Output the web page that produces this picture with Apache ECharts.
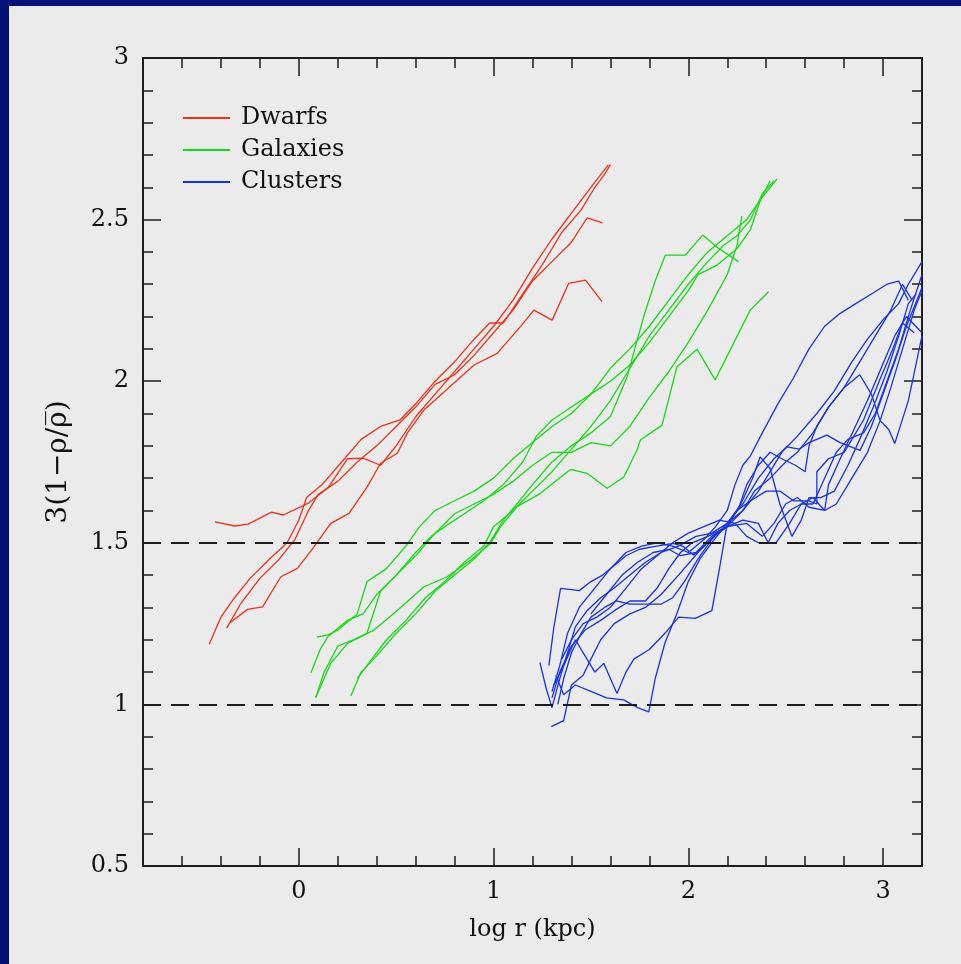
<!DOCTYPE html>
<html>
<head>
<meta charset="utf-8">
<script src="https://cdn.jsdelivr.net/npm/echarts@6/dist/echarts.min.js"></script>
<style>
  html, body { margin: 0; padding: 0; background: #ebebeb; }
  #chart { width: 961px; height: 964px; }
</style>
</head>
<body>
<div id="chart"></div>
<script>
// axis ticks
var xMajor = [0, 1, 2, 3];
var levels = [1, 1.5];

// Dwarfs (red), one array per profile: [log r, 3(1-rho/rhobar)]
var dwarfs = [
  [[-0.43,1.565],[-0.33,1.552],[-0.26,1.558],[-0.14,1.595],[-0.08,1.586],[0.05,1.623],[0.15,1.67],[0.25,1.76],[0.33,1.762],[0.42,1.74],[0.5,1.80],[0.6,1.89],[0.7,1.96],[0.8,2.03],[0.9,2.10],[1.0,2.17],[1.1,2.25],[1.2,2.35],[1.3,2.44],[1.4,2.52],[1.5,2.60],[1.59,2.67]],
  [[-0.46,1.186],[-0.40,1.27],[-0.33,1.33],[-0.25,1.39],[-0.15,1.45],[-0.06,1.50],[0.0,1.57],[0.04,1.64],[0.12,1.68],[0.22,1.75],[0.32,1.82],[0.42,1.86],[0.52,1.88],[0.6,1.93],[0.7,2.0],[0.8,2.06],[0.9,2.13],[0.98,2.18],[1.05,2.18],[1.15,2.27],[1.25,2.36],[1.35,2.46],[1.45,2.53],[1.52,2.60],[1.57,2.64],[1.60,2.67]],
  [[-0.37,1.236],[-0.3,1.31],[-0.2,1.39],[-0.1,1.45],[-0.02,1.51],[0.05,1.60],[0.1,1.65],[0.2,1.69],[0.3,1.75],[0.4,1.80],[0.5,1.86],[0.6,1.92],[0.7,1.99],[0.8,2.02],[0.9,2.08],[1.0,2.15],[1.1,2.22],[1.2,2.31],[1.3,2.37],[1.4,2.43],[1.48,2.505],[1.56,2.49]],
  [[-0.357,1.251],[-0.263,1.294],[-0.186,1.302],[-0.092,1.395],[-0.007,1.421],[0.079,1.488],[0.164,1.56],[0.258,1.591],[0.352,1.674],[0.42,1.746],[0.506,1.777],[0.557,1.839],[0.643,1.911],[0.814,2.004],[0.9,2.05],[1.019,2.086],[1.138,2.169],[1.207,2.22],[1.301,2.189],[1.386,2.303],[1.472,2.313],[1.557,2.246]]
];

// Galaxies (green)
var galaxies = [
  [[0.062,1.098],[0.11,1.17],[0.15,1.21],[0.25,1.26],[0.33,1.28],[0.4,1.34],[0.5,1.40],[0.6,1.47],[0.68,1.52],[0.75,1.55],[0.85,1.59],[0.95,1.63],[1.05,1.68],[1.15,1.75],[1.22,1.83],[1.3,1.88],[1.4,1.92],[1.5,1.96],[1.6,2.04],[1.7,2.10],[1.8,2.17],[1.9,2.25],[2.0,2.33],[2.1,2.40],[2.2,2.45],[2.3,2.50],[2.38,2.57],[2.455,2.625]],
  [[0.092,1.208],[0.15,1.215],[0.2,1.23],[0.3,1.28],[0.35,1.38],[0.45,1.42],[0.55,1.49],[0.62,1.55],[0.7,1.60],[0.8,1.63],[0.9,1.66],[1.0,1.70],[1.1,1.76],[1.2,1.81],[1.3,1.86],[1.4,1.90],[1.5,1.96],[1.6,2.0],[1.7,2.05],[1.8,2.12],[1.9,2.20],[2.0,2.28],[2.05,2.33],[2.15,2.36],[2.25,2.41],[2.32,2.47],[2.37,2.56],[2.42,2.62]],
  [[0.087,1.021],[0.164,1.127],[0.25,1.189],[0.386,1.23],[0.489,1.282],[0.643,1.364],[0.762,1.395],[0.882,1.447],[0.985,1.498],[1.036,1.55],[1.121,1.612],[1.241,1.653],[1.326,1.694],[1.395,1.727],[1.48,1.715],[1.583,1.669],[1.668,1.703],[1.737,1.787],[1.754,1.818],[1.865,1.864],[1.942,2.045],[2.045,2.099],[2.138,2.004],[2.318,2.22],[2.412,2.277]],
  [[0.267,1.026],[0.32,1.10],[0.4,1.15],[0.5,1.22],[0.6,1.28],[0.7,1.35],[0.8,1.40],[0.9,1.45],[0.98,1.50],[1.05,1.57],[1.12,1.62],[1.2,1.68],[1.3,1.75],[1.4,1.80],[1.5,1.84],[1.6,1.89],[1.686,2.014],[1.771,2.2],[1.83,2.31],[1.882,2.39],[1.985,2.39],[2.074,2.452],[2.155,2.411],[2.258,2.37]],
  [[0.087,1.021],[0.13,1.10],[0.2,1.18],[0.28,1.20],[0.35,1.22],[0.42,1.35],[0.5,1.40],[0.6,1.46],[0.7,1.53],[0.8,1.59],[0.9,1.62],[1.0,1.65],[1.1,1.69],[1.2,1.74],[1.3,1.78],[1.4,1.78],[1.5,1.81],[1.6,1.80],[1.7,1.86],[1.8,1.95],[1.9,2.03],[2.0,2.12],[2.1,2.22],[2.2,2.33],[2.25,2.42],[2.275,2.511]],
  [[0.301,1.081],[0.35,1.12],[0.45,1.20],[0.55,1.26],[0.65,1.33],[0.75,1.38],[0.85,1.44],[0.95,1.49],[1.0,1.55],[1.1,1.60],[1.2,1.66],[1.3,1.72],[1.4,1.79],[1.5,1.86],[1.6,1.94],[1.7,2.04],[1.8,2.14],[1.9,2.22],[2.0,2.30],[2.1,2.37],[2.18,2.42],[2.25,2.45],[2.32,2.50],[2.38,2.58],[2.44,2.62]]
];

// Clusters (blue)
var clusters = [
  [[1.238,1.13],[1.27,1.05],[1.30,0.99],[1.34,1.08],[1.38,1.16],[1.42,1.24],[1.48,1.29],[1.55,1.33],[1.62,1.36],[1.70,1.40],[1.78,1.44],[1.86,1.47],[1.95,1.49],[2.04,1.52],[2.12,1.53],[2.2,1.56],[2.28,1.60],[2.36,1.66],[2.42,1.72],[2.48,1.78],[2.56,1.83],[2.66,1.90],[2.75,1.97],[2.84,2.06],[2.92,2.13],[3.0,2.19],[3.08,2.24],[3.13,2.30],[3.2,2.37]],
  [[1.284,1.12],[1.31,1.24],[1.344,1.359],[1.40,1.355],[1.44,1.352],[1.50,1.38],[1.56,1.40],[1.62,1.43],[1.68,1.46],[1.75,1.48],[1.822,1.488],[1.923,1.498],[1.97,1.49],[2.027,1.462],[2.08,1.49],[2.15,1.53],[2.2,1.55],[2.28,1.57],[2.36,1.56],[2.41,1.50],[2.45,1.50],[2.52,1.56],[2.58,1.62],[2.64,1.64],[2.7,1.60],[2.76,1.62],[2.84,1.70],[2.92,1.78],[2.985,1.878],[3.03,1.85],[3.06,1.807],[3.13,1.94],[3.2,2.14]],
  [[1.297,0.931],[1.36,0.95],[1.40,1.06],[1.46,1.09],[1.50,1.14],[1.55,1.20],[1.62,1.25],[1.70,1.28],[1.78,1.30],[1.86,1.34],[1.95,1.40],[2.05,1.47],[2.13,1.52],[2.2,1.55],[2.27,1.62],[2.33,1.70],[2.369,1.766],[2.42,1.73],[2.47,1.62],[2.532,1.52],[2.58,1.57],[2.62,1.64],[2.68,1.64],[2.75,1.66],[2.82,1.74],[2.88,1.82],[2.95,1.92],[3.02,2.03],[3.08,2.14],[3.13,2.24],[3.17,2.27]],
  [[1.32,1.09],[1.36,1.03],[1.42,1.06],[1.50,1.04],[1.58,1.02],[1.668,1.014],[1.74,0.99],[1.797,0.977],[1.83,1.08],[1.88,1.19],[1.942,1.282],[2.0,1.38],[2.06,1.45],[2.12,1.50],[2.2,1.56],[2.28,1.62],[2.36,1.70],[2.44,1.76],[2.506,1.797],[2.57,1.79],[2.62,1.81],[2.711,1.833],[2.78,1.81],[2.882,1.786],[2.94,1.86],[3.0,1.96],[3.06,2.06],[3.12,2.17],[3.2,2.29]],
  [[1.31,1.06],[1.36,1.12],[1.42,1.20],[1.48,1.14],[1.52,1.10],[1.566,1.127],[1.60,1.08],[1.634,1.034],[1.68,1.10],[1.72,1.14],[1.80,1.17],[1.88,1.22],[1.95,1.27],[2.036,1.266],[2.121,1.29],[2.16,1.42],[2.2,1.56],[2.25,1.60],[2.32,1.63],[2.4,1.66],[2.47,1.66],[2.54,1.63],[2.62,1.63],[2.66,1.62],[2.66,1.72],[2.72,1.76],[2.8,1.78],[2.9,1.88],[2.98,2.0],[3.05,2.10],[3.1,2.18],[3.16,2.15]],
  [[1.33,1.00],[1.36,1.08],[1.40,1.16],[1.45,1.22],[1.50,1.27],[1.57,1.30],[1.63,1.32],[1.70,1.31],[1.78,1.31],[1.86,1.31],[1.92,1.33],[1.98,1.38],[2.05,1.45],[2.12,1.51],[2.2,1.56],[2.26,1.61],[2.3,1.68],[2.36,1.74],[2.42,1.78],[2.48,1.76],[2.55,1.74],[2.6,1.72],[2.62,1.80],[2.66,1.86],[2.72,1.92],[2.8,1.98],[2.88,2.06],[2.96,2.14],[3.04,2.22],[3.1,2.30],[3.15,2.25]],
  [[1.30,1.02],[1.34,1.10],[1.40,1.18],[1.47,1.23],[1.55,1.26],[1.62,1.29],[1.70,1.32],[1.78,1.32],[1.84,1.36],[1.90,1.42],[1.96,1.47],[2.02,1.50],[2.1,1.52],[2.2,1.55],[2.3,1.56],[2.38,1.52],[2.44,1.56],[2.5,1.62],[2.56,1.64],[2.62,1.61],[2.7,1.60],[2.72,1.68],[2.78,1.76],[2.85,1.85],[2.92,1.94],[2.99,2.04],[3.06,2.14],[3.12,2.2],[3.2,2.15]],
  [[1.30,1.04],[1.34,1.12],[1.38,1.22],[1.44,1.30],[1.52,1.36],[1.60,1.42],[1.68,1.47],[1.76,1.49],[1.84,1.50],[1.92,1.49],[2.0,1.47],[2.08,1.51],[2.14,1.55],[2.2,1.60],[2.24,1.68],[2.28,1.74],[2.32,1.77],[2.38,1.84],[2.46,1.93],[2.54,2.01],[2.62,2.10],[2.7,2.17],[2.78,2.21],[2.86,2.24],[2.94,2.27],[3.02,2.30],[3.08,2.31],[3.13,2.25]],
  [[1.35,1.14],[1.40,1.20],[1.46,1.25],[1.53,1.27],[1.60,1.30],[1.68,1.36],[1.76,1.42],[1.84,1.46],[1.92,1.50],[2.0,1.53],[2.08,1.55],[2.16,1.57],[2.24,1.56],[2.3,1.52],[2.36,1.50],[2.41,1.50],[2.46,1.56],[2.52,1.60],[2.58,1.62],[2.64,1.62],[2.7,1.70],[2.76,1.78],[2.82,1.82],[2.9,1.84],[2.96,1.90],[3.02,2.00],[3.08,2.10],[3.14,2.22],[3.2,2.33]],
  [[1.50,1.28],[1.58,1.34],[1.66,1.40],[1.74,1.44],[1.82,1.47],[1.9,1.48],[1.96,1.46],[2.04,1.47],[2.12,1.52],[2.2,1.55],[2.28,1.60],[2.34,1.66],[2.42,1.70],[2.5,1.75],[2.56,1.78],[2.64,1.84],[2.72,1.92],[2.8,1.98],[2.88,2.02],[2.94,1.96],[2.985,1.878],[3.04,1.98],[3.1,2.10],[3.16,2.22],[3.2,2.28]]
];

var chart = echarts.init(document.getElementById('chart'));

var font = 'DejaVu Serif';
var axisColor = '#1e1e1e';
var majorLen = 18, minorLen = 10;

function lineSeries(name, color, lines) {
  return lines.map(function (pts) {
    return {
      name: name,
      type: 'line',
      data: pts,
      symbol: 'none',
      color: color,
      lineStyle: { color: color, width: 1.3 },
      clip: true,
      z: 3
    };
  });
}

var series = [].concat(
  lineSeries('Dwarfs', '#f23118', dwarfs),
  lineSeries('Galaxies', '#14dc14', galaxies),
  lineSeries('Clusters', '#1632ee', clusters)
);

// dashed reference levels
series[0].markLine = {
  silent: true,
  symbol: 'none',
  label: { show: false },
  lineStyle: { color: '#1a1a1a', width: 2, type: [18, 10] },
  data: levels.map(function (v) { return { yAxis: v }; })
};

function xAx(pos, major, extra) {
  var o = {
    type: 'value', min: -0.8, max: 3.2, interval: 0.2, position: pos,
    axisLine: { show: true, onZero: false, lineStyle: { color: axisColor, width: 2 } },
    axisTick: { show: true, inside: true, length: major ? majorLen : minorLen, lineStyle: { color: axisColor, width: 1.5 } },
    axisLabel: { show: false },
    splitLine: { show: false }
  };
  if (major) { o.axisTick.customValues = xMajor; }
  return Object.assign(o, extra || {});
}

function yAx(pos, extra) {
  var o = {
    type: 'value', min: 0.5, max: 3, interval: 0.5, position: pos,
    axisLine: { show: true, onZero: false, lineStyle: { color: axisColor, width: 2 } },
    axisTick: { show: true, inside: true, length: majorLen, lineStyle: { color: axisColor, width: 1.5 } },
    minorTick: { show: true, splitNumber: 5, length: minorLen, lineStyle: { color: axisColor, width: 1.5 } },
    axisLabel: { show: false },
    splitLine: { show: false }
  };
  return Object.assign(o, extra || {});
}

var option = {
  animation: false,
  backgroundColor: '#ebebeb',
  graphic: [
    { type: 'rect', shape: { x: 0, y: 0, width: 9, height: 964 }, style: { fill: '#021277' }, z: 10 },
    { type: 'rect', shape: { x: 0, y: 0, width: 961, height: 6 }, style: { fill: '#021277' }, z: 10 }
  ],
  grid: { left: 143, right: 39, top: 58, bottom: 98, containLabel: false },
  legend: {
    orient: 'vertical', left: 178, top: 101,
    icon: 'rect', itemWidth: 47, itemHeight: 2, itemGap: 8,
    data: ['Dwarfs', 'Galaxies', 'Clusters'],
    textStyle: { fontFamily: font, fontSize: 24, color: '#111', padding: [0, 0, 0, 6] }
  },
  xAxis: [
    xAx('bottom', false, {
      name: 'log r (kpc)', nameLocation: 'middle', nameGap: 52,
      nameTextStyle: { fontFamily: font, fontSize: 24, color: '#111' },
      axisLabel: { show: true, customValues: xMajor, margin: 14, fontFamily: font, fontSize: 24, color: '#111' }
    }),
    xAx('bottom', true),
    xAx('top', false),
    xAx('top', true)
  ],
  yAxis: [
    yAx('left', {
      name: '3(1\u2212\u03c1/\u03c1\u0305)', nameLocation: 'middle', nameGap: 70,
      nameTextStyle: { fontFamily: font, fontSize: 28, color: '#111' },
      axisLabel: { show: true, margin: 14, fontFamily: font, fontSize: 24, color: '#111' }
    }),
    yAx('right')
  ],
  series: series
};

chart.setOption(option);
</script>
</body>
</html>
